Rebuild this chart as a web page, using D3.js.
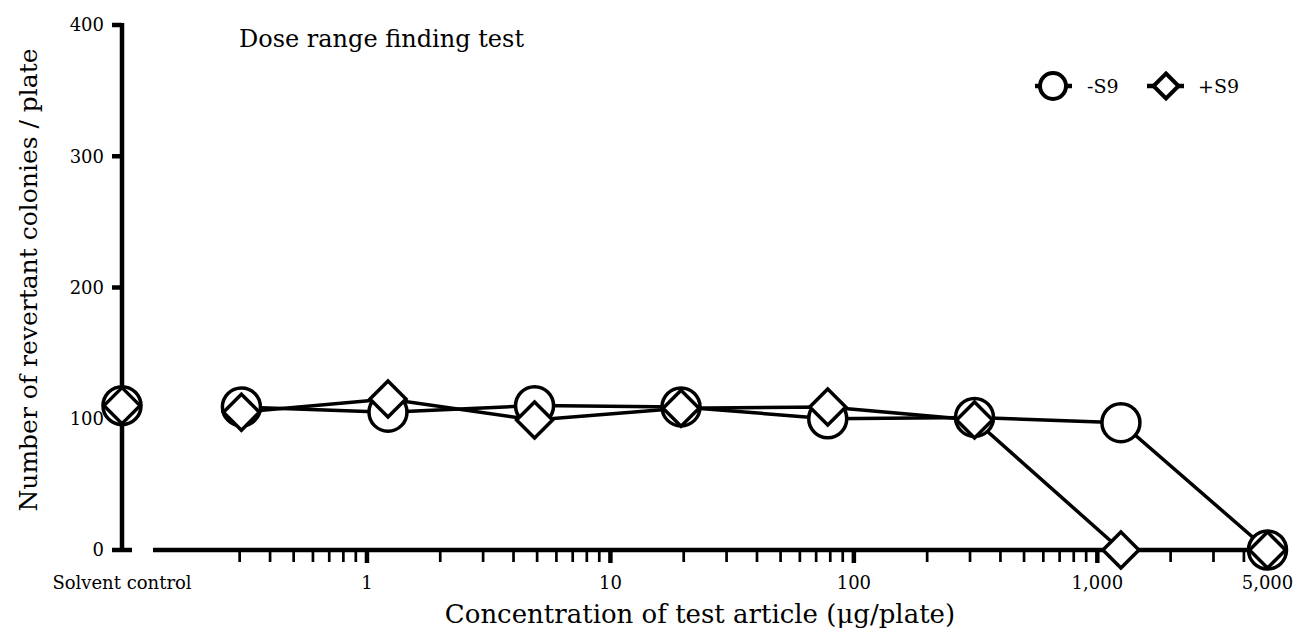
<!DOCTYPE html>
<html>
<head>
<meta charset="utf-8">
<script src="https://cdn.jsdelivr.net/npm/d3@7"></script>
<style>
  body { margin: 0; background: #fff; }
  svg { display: block; }
  text { font-family: "DejaVu Serif", "Liberation Serif", serif; fill: #000; }
</style>
</head>
<body>
<svg id="chart" width="1300" height="639"></svg>
<script>
// concentrations (ug/plate), 4-fold dilution series
const doses = [0.305, 1.22, 4.88, 19.5, 78.1, 313, 1250, 5000];
const minusS9 = [109, 105, 110, 109, 100, 101, 97, 0];
const plusS9 = [105, 115, 99, 108, 109, 99, 0, 0];
const solventMinus = 110;
const solventPlus = 110;

const yTicks = [0, 100, 200, 300, 400];
const xMajor = [1, 10, 100, 1000, 5000];
const xMajorLabels = ["1", "10", "100", "1,000", "5,000"];
const xMinor = [0.3, 0.4, 0.5, 0.6, 0.7, 0.8, 0.9,
  2, 3, 4, 5, 6, 7, 8, 9,
  20, 30, 40, 50, 60, 70, 80, 90,
  200, 300, 400, 500, 600, 700, 800, 900,
  2000, 3000, 4000];

const svg = d3.select("#chart");

const x = d3.scaleLog().domain([0.1, 5000]).range([123.5, 1267.5]);
const y = d3.scaleLinear().domain([0, 400]).range([550, 25]);
const xSolvent = x(0.1) - 1.5;

/** Axes
------------------------------------------------------------*/

// y axis
svg.append("line")
  .attr("x1", xSolvent).attr("x2", xSolvent)
  .attr("y1", y(400) - 2).attr("y2", y(0) + 2)
  .attr("stroke", "#000").attr("stroke-width", 4.5);

svg.append("g")
  .selectAll("line")
  .data(yTicks)
  .enter().append("line")
  .attr("x1", xSolvent - 10)
  .attr("x2", d => d === 0 ? xSolvent + 10 : xSolvent)
  .attr("y1", d => y(d)).attr("y2", d => y(d))
  .attr("stroke", "#000").attr("stroke-width", 4.5);

svg.append("g")
  .selectAll("text")
  .data(yTicks)
  .enter().append("text")
  .attr("x", 104)
  .attr("y", d => y(d))
  .attr("dy", "0.35em")
  .attr("text-anchor", "end")
  .attr("font-size", 18)
  .text(d => d);

// x axis (broken between solvent control and the dose range)
svg.append("line")
  .attr("x1", 153).attr("x2", 1288)
  .attr("y1", y(0)).attr("y2", y(0))
  .attr("stroke", "#000").attr("stroke-width", 4.5);

svg.append("g")
  .selectAll("line")
  .data(xMinor)
  .enter().append("line")
  .attr("x1", d => x(d)).attr("x2", d => x(d))
  .attr("y1", y(0)).attr("y2", y(0) + 12)
  .attr("stroke", "#000").attr("stroke-width", 2.7);

svg.append("g")
  .selectAll("line")
  .data(xMajor)
  .enter().append("line")
  .attr("x1", d => x(d)).attr("x2", d => x(d))
  .attr("y1", y(0)).attr("y2", y(0) + 13)
  .attr("stroke", "#000").attr("stroke-width", 4.5);

svg.append("g")
  .selectAll("text")
  .data(xMajor)
  .enter().append("text")
  .attr("x", d => x(d))
  .attr("y", 589)
  .attr("text-anchor", "middle")
  .attr("font-size", 18)
  .text((d, i) => xMajorLabels[i]);

svg.append("text")
  .attr("x", xSolvent)
  .attr("y", 589)
  .attr("text-anchor", "middle")
  .attr("font-size", 18)
  .text("Solvent control");

// axis titles
svg.append("text")
  .attr("x", 700)
  .attr("y", 623)
  .attr("text-anchor", "middle")
  .attr("font-size", 26)
  .text("Concentration of test article (\u03bcg/plate)");

svg.append("text")
  .attr("transform", "translate(37,280) rotate(-90)")
  .attr("text-anchor", "middle")
  .attr("font-size", 25)
  .text("Number of revertant colonies / plate");

svg.append("text")
  .attr("x", 239)
  .attr("y", 47)
  .attr("font-size", 24)
  .text("Dose range finding test");

/** Series
------------------------------------------------------------*/

const line = d3.line()
  .x(d => x(d[0]))
  .y(d => y(d[1]));

const minusPts = doses.map((d, i) => [d, minusS9[i]]);
const plusPts = doses.map((d, i) => [d, plusS9[i]]);

svg.append("path")
  .datum(minusPts)
  .attr("d", line)
  .attr("fill", "none").attr("stroke", "#000").attr("stroke-width", 3.5);

svg.append("path")
  .datum(plusPts)
  .attr("d", line)
  .attr("fill", "none").attr("stroke", "#000").attr("stroke-width", 3.5);

const circleR = 19;
const diamondH = 18;
const diamond = (h) => `M0,${-h}L${h},0L0,${h}L${-h},0Z`;

svg.append("g")
  .selectAll("circle")
  .data([[null, solventMinus]].concat(minusPts))
  .enter().append("circle")
  .attr("cx", d => d[0] === null ? xSolvent : x(d[0]))
  .attr("cy", d => y(d[1]))
  .attr("r", circleR)
  .attr("fill", "#fff").attr("stroke", "#000").attr("stroke-width", 3.5);

svg.append("g")
  .selectAll("path")
  .data([[null, solventPlus]].concat(plusPts))
  .enter().append("path")
  .attr("transform", d => `translate(${d[0] === null ? xSolvent : x(d[0])},${y(d[1])})`)
  .attr("d", diamond(diamondH))
  .attr("fill", "#fff").attr("stroke", "#000").attr("stroke-width", 3.5);

/** Legend
------------------------------------------------------------*/

const legend = svg.append("g").attr("transform", "translate(0,86)");

legend.append("line")
  .attr("x1", 1035).attr("x2", 1072)
  .attr("stroke", "#000").attr("stroke-width", 4.5);
legend.append("circle")
  .attr("cx", 1053).attr("r", 13)
  .attr("fill", "#fff").attr("stroke", "#000").attr("stroke-width", 4);
legend.append("text")
  .attr("x", 1087).attr("dy", "0.35em")
  .attr("font-size", 19)
  .text("-S9");

legend.append("line")
  .attr("x1", 1147).attr("x2", 1184)
  .attr("stroke", "#000").attr("stroke-width", 4.5);
legend.append("path")
  .attr("transform", "translate(1166,0)")
  .attr("d", diamond(12.5))
  .attr("fill", "#fff").attr("stroke", "#000").attr("stroke-width", 4);
legend.append("text")
  .attr("x", 1198).attr("dy", "0.35em")
  .attr("font-size", 19)
  .text("+S9");
</script>
</body>
</html>
